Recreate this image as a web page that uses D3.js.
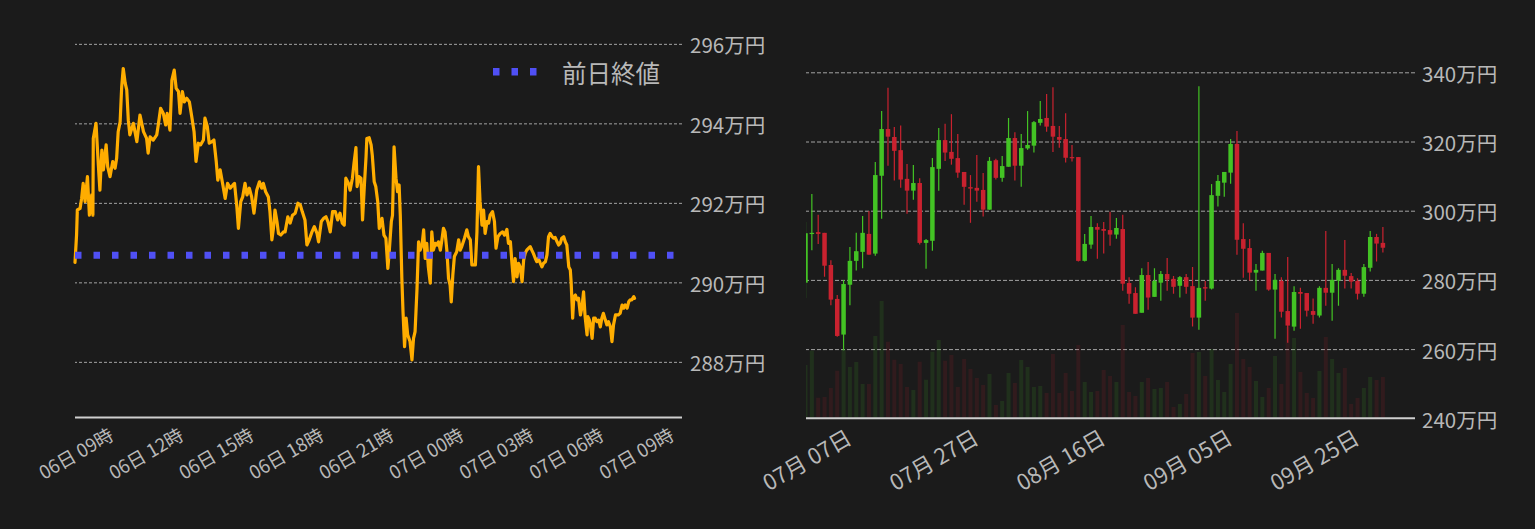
<!DOCTYPE html>
<html><head><meta charset="utf-8">
<script src="https://cdn.jsdelivr.net/npm/d3@7"></script>
<style>
html,body{margin:0;padding:0;background:#1b1b1b;overflow:hidden;}
svg{display:block;}
text{font-family:"Noto Sans CJK JP","Noto Sans",sans-serif;}
</style></head><body>
<svg id="chart" width="1535" height="529"></svg>
<script>
// ---------- Intraday (left) data : minutes after 2022-10-06 09:00, price in 万円 ----------
const intradayMinutes = [0,4,6,13,17,21,26,32,37,43,46,47,54,60,64,69,73,80,84,90,97,103,107,111,116,120,124,129,133,137,141,150,159,167,176,184,188,193,201,210,214,220,227,233,237,244,249,255,260,266,270,276,281,287,294,300,306,311,317,323,330,334,340,345,352,357,363,367,373,380,386,392,399,406,410,416,420,426,431,437,442,448,454,460,467,474,480,484,490,497,501,506,510,514,519,523,529,536,540,547,553,559,566,573,579,584,591,596,602,609,615,622,626,633,639,645,650,656,662,669,675,681,687,692,696,703,707,713,717,722,725,730,735,739,744,748,750,756,761,764,769,773,778,782,789,794,799,804,807,813,816,820,825,829,833,836,840,843,847,851,855,861,866,870,874,879,883,887,892,896,900,904,908,913,917,921,926,930,934,939,943,947,951,956,960,964,967,971,975,981,986,990,994,1001,1007,1011,1016,1020,1029,1033,1037,1041,1046,1050,1054,1059,1063,1067,1073,1078,1082,1087,1093,1099,1104,1110,1114,1119,1123,1127,1131,1136,1140,1144,1149,1153,1157,1161,1166,1170,1174,1178,1183,1187,1191,1196,1200,1204,1209,1213,1217,1221,1226,1230,1234,1239,1243,1247,1251,1256,1260,1264,1269,1273,1275,1279,1282,1286,1290,1294,1299,1303,1307,1311,1316,1318,1322,1324,1329,1333,1337,1341,1346,1350,1354,1358,1363,1367,1371,1376,1380,1384,1389,1396,1401,1406,1410,1414,1419,1423,1427,1431,1436,1438];
const intradayPrices = [290.50,291.19,291.82,291.86,292.11,292.49,292.03,292.66,291.69,292.20,
291.69,293.62,294.00,292.95,292.32,293.33,292.83,293.46,292.91,292.66,
293.04,292.87,293.12,293.79,294.04,294.92,295.38,295.01,294.84,294.08,
293.71,294.00,293.54,294.21,293.79,293.62,293.25,293.66,293.58,293.71,
293.96,294.38,294.25,293.96,294.25,293.83,295.09,295.34,294.88,294.80,
294.25,294.80,294.54,294.63,294.54,294.17,293.79,293.04,293.50,293.46,
293.58,294.13,293.92,293.50,293.54,293.58,293.04,292.57,292.83,292.45,
292.11,292.49,292.37,292.45,292.49,291.90,291.36,292.03,292.15,292.49,
292.20,292.37,292.15,291.74,292.32,292.53,292.37,292.49,292.28,292.15,
291.78,291.07,291.36,291.82,291.53,291.23,291.19,291.27,291.27,291.65,
291.49,291.69,291.74,291.99,291.95,291.78,291.57,290.94,291.07,291.27,
291.40,291.23,291.02,291.53,291.61,291.65,291.53,291.27,291.78,291.78,
291.57,291.74,291.49,291.44,292.62,292.49,292.32,292.62,292.99,293.39,
292.41,292.66,292.62,291.57,292.49,293.16,293.62,293.64,293.46,293.20,
292.53,292.41,292.03,291.36,291.61,291.19,291.11,290.35,290.69,291.53,
291.69,293.41,292.62,292.28,292.45,291.69,290.10,289.26,288.38,289.10,
288.68,288.51,288.05,288.59,288.76,289.85,291.02,290.81,290.94,291.32,
290.60,290.98,290.39,289.98,291.27,290.81,290.98,290.94,291.02,290.81,
291.07,291.36,291.27,290.77,290.10,289.93,289.51,290.18,290.65,290.77,
291.07,290.81,290.90,291.11,291.32,291.15,291.07,290.44,290.44,291.27,
292.91,292.03,291.44,291.82,291.23,291.53,291.49,291.69,291.78,291.53,
290.86,291.15,291.23,291.27,291.19,291.33,290.98,291.02,290.48,290.02,
290.60,290.14,290.48,290.39,290.02,290.56,290.73,290.81,290.86,290.90,
290.81,290.73,290.60,290.52,290.60,290.48,290.39,290.48,290.52,290.69,
291.15,291.23,291.15,291.11,291.13,291.02,290.94,290.98,291.11,291.15,
291.02,290.94,290.39,290.31,290.02,289.10,289.64,289.68,289.56,289.60,
289.18,289.39,289.76,289.14,288.68,289.14,289.05,288.97,288.59,289.10,
289.10,289.01,289.05,288.88,289.10,289.22,289.05,288.93,289.01,288.88,
288.51,288.93,289.18,289.18,289.22,289.43,289.35,289.43,289.35,289.51,
289.56,289.56,289.64,289.60];
const prevClose = 290.68;
const legendLabel = "前日終値";
const intradayYTicks = [288, 290, 292, 294, 296];
const intradayTickHours = [0, 3, 6, 9, 12, 15, 18, 21, 24]; // hours after 06日 09時

// ---------- Daily candles (right) : from 2022-07-07 ----------
const dailyOpen  = [279.2,293.3,293.8,293.6,284.3,274.5,264.2,278.6,285.5,288.1,
293.3,287.6,310.1,323.6,321.3,317.5,309.2,305.8,308.0,290.7,
291.3,312.1,320.4,317.0,315.2,311.2,306.8,306.6,306.0,300.3,
314.6,309.5,312.7,321.0,313.0,318.0,318.8,325.4,326.8,324.5,
321.3,320.7,315.5,315.5,285.5,290.2,295.3,294.7,294.4,293.1,
294.7,279.1,276.2,270.5,281.4,275.1,279.2,281.7,280.3,278.3,
280.8,278.2,269.1,277.9,277.5,304.3,308.1,311.0,319.3,291.8,
289.2,282.1,282.7,287.8,277.2,279.7,271.0,266.5,276.5,276.2,
271.0,269.7,277.7,276.3,279.8,282.9,281.1,279.7,276.0,283.5,
292.4,290.7];
const dailyHigh  = [296.7,304.8,298.8,293.6,285.7,275.6,280.0,289.5,293.6,298.5,
299.9,314.1,328.8,335.5,324.2,324.6,313.5,313.2,309.4,291.8,
315.2,323.9,325.1,327.9,322.2,311.2,310.3,316.1,310.9,315.5,
315.0,315.8,326.8,322.7,322.2,328.8,325.9,331.7,333.7,335.7,
324.5,328.2,319.0,315.5,293.3,298.5,296.4,296.7,299.7,297.9,
298.8,280.8,277.9,283.4,285.2,283.4,282.6,286.3,281.1,281.1,
281.7,283.7,336.0,279.7,307.7,310.3,311.2,320.7,323.0,296.4,
291.8,284.6,288.4,287.8,281.7,280.8,286.6,278.2,277.7,276.2,
274.6,278.2,294.1,284.6,283.4,291.5,282.0,280.5,284.6,294.1,
293.3,295.3];
const dailyLow   = [274.8,288.6,290.4,280.9,272.7,263.6,259.7,272.7,282.7,283.4,
287.3,287.0,297.7,313.0,308.7,306.6,299.1,303.2,290.2,283.2,
288.4,305.8,314.4,313.3,309.5,301.7,296.5,302.6,298.3,300.3,
309.0,308.4,312.7,308.7,306.9,317.6,316.8,324.6,322.8,317.0,
318.2,313.9,314.2,285.3,285.3,289.0,286.1,287.6,289.9,291.9,
276.9,273.1,270.2,270.5,271.4,275.1,274.0,276.9,276.0,274.9,
276.0,266.5,265.6,274.0,277.2,301.2,304.0,307.8,287.3,280.6,
279.8,276.9,282.7,276.9,263.0,269.1,261.8,265.3,265.9,269.4,
267.3,269.1,272.5,268.2,272.5,277.5,277.5,274.3,275.1,282.4,
285.3,287.9];
const dailyClose = [293.5,293.6,293.3,284.1,274.3,263.8,278.8,285.5,288.3,293.6,
287.3,310.3,323.6,321.4,317.3,309.0,305.8,308.0,290.7,291.5,
312.6,320.4,316.8,315.0,311.0,306.9,306.4,305.8,300.3,314.4,
309.5,312.9,321.0,313.0,318.1,319.0,325.6,326.5,324.3,321.4,
320.5,315.3,315.2,285.5,290.4,295.3,294.5,294.2,293.1,295.0,
278.9,276.0,270.2,281.4,274.9,279.7,281.7,280.1,278.0,280.8,
278.0,269.1,277.7,277.5,304.5,308.6,311.2,319.3,291.6,289.0,
282.1,282.9,287.8,277.2,280.0,270.8,266.8,276.5,276.0,271.1,
269.9,277.7,276.3,280.0,282.9,281.2,279.5,276.0,283.7,292.4,
290.5,289.3];
const dailyVolume = [525,668,198,205,295,468,682,505,555,335,
335,815,1165,758,578,535,305,275,558,378,
658,775,568,625,305,585,485,395,325,435,
125,165,445,345,575,505,305,315,245,635,
245,445,265,725,355,255,265,475,415,355,
925,255,215,355,395,285,295,355,105,135,
235,645,655,415,685,375,255,535,1045,585,
505,365,205,295,615,335,905,795,455,245,
195,465,805,585,445,495,135,195,295,405,
375,405];
const dailyYTicks = [240, 260, 280, 300, 320, 340];
const dailyTickDays = [0, 20, 40, 60, 80]; // days after 07月 07日

// ---------- drawing ----------
const svg = d3.select("#chart");
const TEXT = "#b8b8b8", GRID = "#a3a3a3", AXIS = "#cfcfcf";
const UP = "#43c324", DOWN = "#c9222f";

// ===== Left chart =====
const L = {x0: 75, x1: 682, top: 20, bottom: 417.5};
const t0 = new Date(2022, 9, 6, 9, 0);
const xL = d3.scaleTime().domain([t0, d3.timeHour.offset(t0, 26)]).range([L.x0, L.x1]);
const yL = d3.scaleLinear().domain([286.6, 296.6]).range([L.bottom, L.top]);

const gyL = svg.append("g").attr("transform", `translate(${L.x1},0)`)
  .call(d3.axisRight(yL).tickValues(intradayYTicks).tickSize(-(L.x1 - L.x0)).tickPadding(8).tickFormat(d => d + "万円"));
gyL.select(".domain").remove();
gyL.selectAll(".tick line").attr("stroke", GRID).attr("stroke-width", 1).attr("stroke-dasharray", "3,2");
gyL.selectAll("text").attr("fill", TEXT).attr("dy", null).attr("dominant-baseline", "central")
  .style("font-size", "20.5px");

const gxL = svg.append("g").attr("transform", `translate(0,${L.bottom})`)
  .call(d3.axisBottom(xL).tickValues(intradayTickHours.map(h => d3.timeHour.offset(t0, h)))
    .tickSize(0).tickFormat(d3.timeFormat("%d日 %H時")));
gxL.select(".domain").attr("stroke", AXIS).attr("stroke-width", 2).attr("d", `M${L.x0},0H${L.x1}`);
gxL.selectAll("text").attr("fill", TEXT).attr("y", 0).attr("dy", null)
  .attr("dominant-baseline", "central").attr("text-anchor", "middle")
  .attr("transform", "translate(0,35) rotate(-30)").style("font-size", "18.5px");

const lineData = intradayMinutes.map((m, i) => ({t: d3.timeMinute.offset(t0, m), p: intradayPrices[i]}));
svg.append("path").datum(lineData)
  .attr("fill", "none").attr("stroke", "#ffad00").attr("stroke-width", 3.2)
  .attr("stroke-linejoin", "round").attr("stroke-linecap", "round")
  .attr("d", d3.line().x(d => xL(d.t)).y(d => yL(d.p)));

svg.append("line")
  .attr("x1", L.x0).attr("x2", L.x1).attr("y1", yL(prevClose)).attr("y2", yL(prevClose))
  .attr("stroke", "#5050f5").attr("stroke-width", 7).attr("stroke-dasharray", "6.5,12");

// legend
const leg = svg.append("g");
[0, 1, 2].forEach(i => leg.append("rect").attr("x", 493 + i * 18.5).attr("y", 68).attr("width", 6.5).attr("height", 7.5).attr("fill", "#5050f5"));
leg.append("text").attr("x", 562).attr("y", 72).attr("dominant-baseline", "central")
  .attr("fill", TEXT).style("font-size", "24.5px").text(legendLabel);

// ===== Right chart =====
const R = {x0: 806, x1: 1415, top: 37.7, bottom: 418.3};
const d0 = new Date(2022, 6, 7);
const xR = d3.scaleTime().domain([d0, d3.timeDay.offset(d0, 96)]).range([805.5, 805.5 + 96 * 6.345]);
const yR = d3.scaleLinear().domain([240, 350]).range([R.bottom, R.top]);
const yV = d3.scaleLinear().domain([0, 3800]).range([417.5, 37.5]);

const gyR = svg.append("g").attr("transform", `translate(${R.x1},0)`)
  .call(d3.axisRight(yR).tickValues(dailyYTicks).tickSize(-(R.x1 - R.x0)).tickPadding(7).tickFormat(d => d + "万円"));
gyR.select(".domain").remove();
gyR.selectAll(".tick line").attr("stroke", GRID).attr("stroke-width", 1).attr("stroke-dasharray", "4,2")
  .attr("opacity", d => d === 240 ? 0 : 1);
gyR.selectAll("text").attr("fill", TEXT).attr("dy", null).attr("dominant-baseline", "central").style("font-size", "20.5px");

svg.append("defs").append("clipPath").attr("id", "clipR")
  .append("rect").attr("x", R.x0).attr("y", 0).attr("width", R.x1 - R.x0).attr("height", R.bottom);

const candles = dailyOpen.map((o, i) => ({
  date: d3.timeDay.offset(d0, i), o, h: dailyHigh[i], l: dailyLow[i], c: dailyClose[i], v: dailyVolume[i]
}));

const plot = svg.append("g").attr("clip-path", "url(#clipR)");
const bw = 4.5;
plot.selectAll("rect.vol").data(candles).enter().append("rect").attr("class", "vol")
  .attr("x", d => xR(d.date) - 2).attr("width", 4)
  .attr("y", d => yV(d.v)).attr("height", d => yV(0) - yV(d.v))
  .attr("fill", d => d.c >= d.o ? UP : DOWN).attr("opacity", 0.13);
plot.selectAll("line.wick").data(candles).enter().append("line").attr("class", "wick")
  .attr("x1", d => xR(d.date)).attr("x2", d => xR(d.date))
  .attr("y1", d => yR(d.h)).attr("y2", d => yR(d.l))
  .attr("stroke", d => d.c >= d.o ? UP : DOWN).attr("stroke-width", 1.2);
plot.selectAll("rect.body").data(candles).enter().append("rect").attr("class", "body")
  .attr("x", d => xR(d.date) - bw / 2).attr("width", bw)
  .attr("y", d => yR(Math.max(d.o, d.c)))
  .attr("height", d => Math.max(1.2, Math.abs(yR(d.o) - yR(d.c))))
  .attr("fill", d => d.c >= d.o ? UP : DOWN);

const gxR = svg.append("g").attr("transform", `translate(0,${R.bottom})`)
  .call(d3.axisBottom(xR).tickValues(dailyTickDays.map(k => d3.timeDay.offset(d0, k)))
    .tickSize(0).tickFormat(d3.timeFormat("%m月 %d日")));
gxR.select(".domain").attr("stroke", AXIS).attr("stroke-width", 2).attr("d", `M${R.x0},0H${R.x1}`);
gxR.selectAll("text").attr("fill", TEXT).attr("y", 0).attr("dy", null)
  .attr("dominant-baseline", "central").attr("text-anchor", "middle")
  .attr("transform", "translate(0,40) rotate(-30)").style("font-size", "22px");
</script>
</body></html>
